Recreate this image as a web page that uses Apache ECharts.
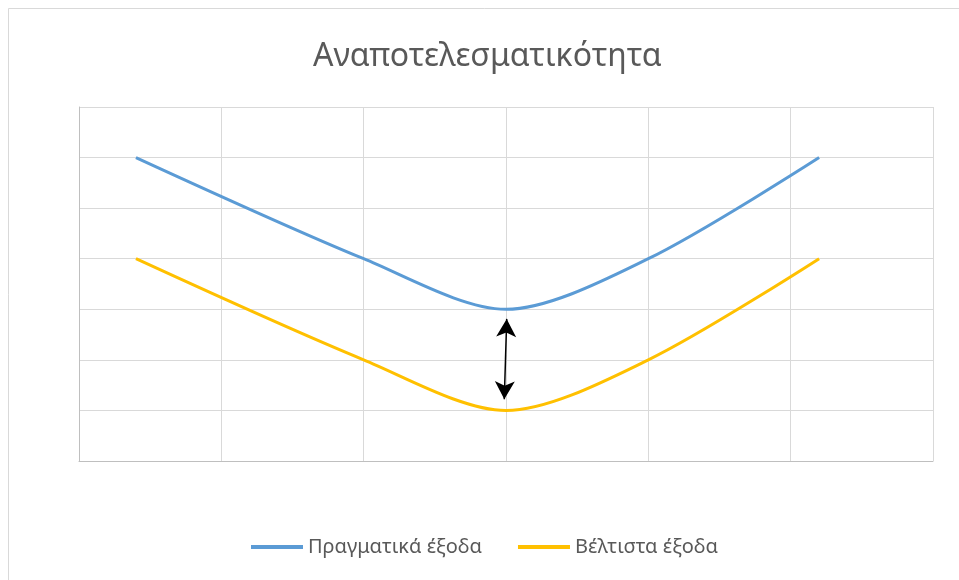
<!DOCTYPE html>
<html><head><meta charset="utf-8">
<script src="https://cdn.jsdelivr.net/npm/echarts@6/dist/echarts.min.js"></script>
<style>html,body{margin:0;padding:0;background:#fff}#c{width:959px;height:580px}</style>
</head><body><div id="c"></div>
<script>
const title = 'Αναποτελεσματικότητα';
const seriesNames = ['Πραγματικά έξοδα', 'Βέλτιστα έξοδα'];
const xValues = [0.4, 2, 3, 4, 5.2];
const actual = [6, 4, 3, 4, 6];
const optimal = [4, 2, 1, 2, 4];
const arrowFrom = [3.005, 2.81];
const arrowTo = [2.988, 1.22];

const chart = echarts.init(document.getElementById('c'));
const font = 'Noto Sans';
chart.setOption({
  animation: false,
  backgroundColor: '#fff',
  graphic: [{type:'rect', shape:{x:8.5,y:8.5,width:1000,height:1000}, style:{fill:'none', stroke:'#d9d9d9', lineWidth:1}, silent:true, z:-1}],
  title: {text: title, left: 308, top: 36, textStyle:{fontFamily: font, fontSize: 32, fontWeight: 'normal', color:'#595959'}},
  legend: {top: 532, left: 246, itemWidth: 52, itemHeight: 4, itemGap: 36, icon: 'rect',
    textStyle:{fontFamily: font, fontSize: 20, color:'#595959'}},
  grid: {left: 79, right: 26, top: 107, bottom: 119, containLabel: false},
  xAxis: {type:'value', min:0, max:6, interval:1,
    axisLine:{show:true, onZero:false, lineStyle:{color:'#bfbfbf', width:1}},
    axisTick:{show:false}, axisLabel:{show:false},
    splitLine:{show:true, lineStyle:{color:'#d9d9d9', width:1}}},
  yAxis: {type:'value', min:0, max:7, interval:1,
    axisLine:{show:true, onZero:false, lineStyle:{color:'#bfbfbf', width:1}},
    axisTick:{show:false}, axisLabel:{show:false},
    splitLine:{show:true, lineStyle:{color:'#d9d9d9', width:1}}},
  series: [
    {name: seriesNames[0], type:'line', smooth:0.3, symbol:'none', color:'#5B9BD5',
     lineStyle:{width:3, color:'#5B9BD5'}, data: xValues.map((x,i)=>[x, actual[i]]),
     markLine:{silent:true, symbol:['arrow','arrow'], symbolSize:[15,18], label:{show:false},
       lineStyle:{color:'#000', width:1.5, type:'solid'},
       data:[[{coord: arrowFrom}, {coord: arrowTo}]]}},
    {name: seriesNames[1], type:'line', smooth:0.3, symbol:'none', color:'#FFC000',
     lineStyle:{width:3, color:'#FFC000'}, data: xValues.map((x,i)=>[x, optimal[i]])}
  ]
});
</script></body></html>
